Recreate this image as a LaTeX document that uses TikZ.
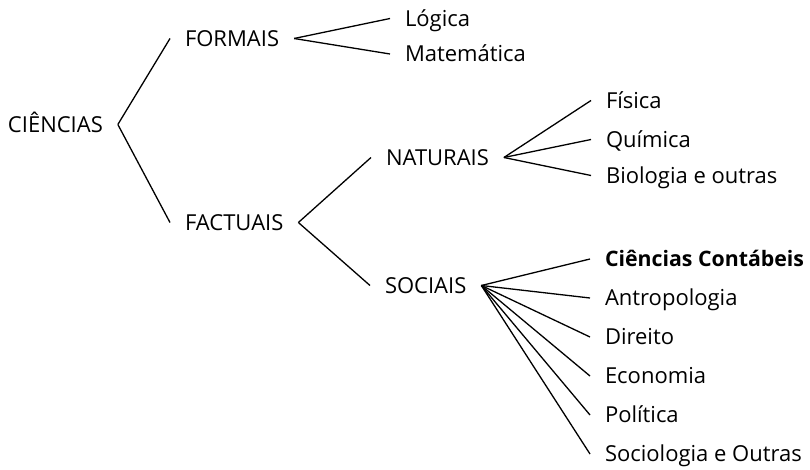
\documentclass[tikz,border=0pt]{standalone}
\usepackage{fontspec}
\setmainfont{Open Sans}

\tikzset{
	ramo/.style={anchor=west, inner sep=0pt, outer xsep=15pt,
		text height=15.7pt, text depth=0pt,
		font=\fontsize{22}{26}\selectfont},
}

\begin{document}
\begin{tikzpicture}
	[x=1pt, y=-1pt, line width=1.3pt]
	\useasboundingbox (0,0) rectangle (810,470);
	% \draw [help lines, step=10] (0,0) grid (810,470);
	\node[ramo] (ciencias) at (-7,124.5) {CIÊNCIAS};
	\node[ramo] (formais) at (170,38.5) {FORMAIS};
	\node[ramo] (factuais) at (170,222.5) {FACTUAIS};
	\node[ramo] (naturais) at (371,157.5) {NATURAIS};
	\node[ramo] (sociais) at (370,285.5) {SOCIAIS};
	% formais
	\node[ramo] (logica) at (390,18.5) {Lógica};
	\node[ramo] (matematica) at (390,54) {Matemática};
	% naturais
	\foreach \n/\y/\t in {fisica/100.5/Física, quimica/139.5/Química,
		biologia/175.5/Biologia e outras}{
		\node[ramo] (\n) at (591,\y) {\t};
		\draw (naturais.east) -- (\n.west);
	}
	% sociais
	\foreach \t [count=\i from 0] in {{\fontsize{21.3}{26}\selectfont\bfseries
		Ciências Contábeis}, Antropologia,
		Direito, Economia, Política, Sociologia e Outras}{
		\node[ramo] (social\i) at (590,259+39*\i) {\t};
		\draw (sociais.east) -- (social\i.west);
	}
	\foreach \a/\b in {ciencias/formais, ciencias/factuais, formais/logica,
		formais/matematica, factuais/naturais, factuais/sociais}
		\draw (\a.east) -- (\b.west);
\end{tikzpicture}
\end{document}
